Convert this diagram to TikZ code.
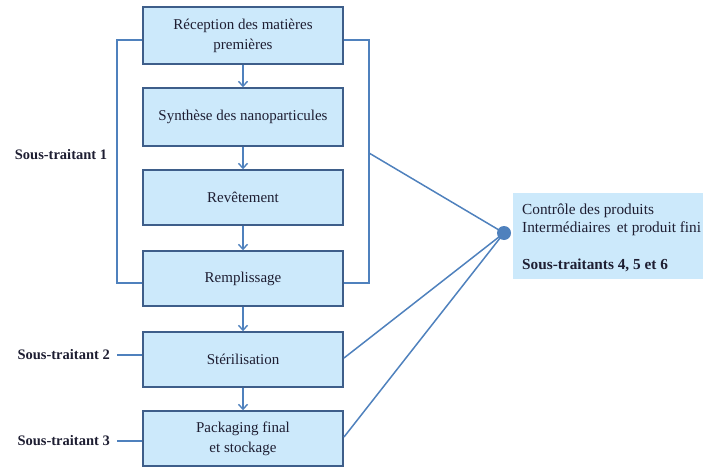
\documentclass[tikz,border=0pt]{standalone}
\usepackage{fontspec}
\setmainfont{Liberation Serif}
\usetikzlibrary{arrows.meta}
\definecolor{boxfill}{RGB}{204,233,251}
\definecolor{boxline}{RGB}{62,94,138}
\definecolor{linkblue}{RGB}{79,129,189}
\definecolor{labeltext}{RGB}{30,30,50}
\tikzset{
  stepbox/.style={rectangle, draw=boxline, fill=boxfill, line width=1.4pt,
    minimum width=200pt, align=center, text=labeltext,
    font=\fontsize{15}{20}\selectfont},
  flow/.style={draw=linkblue, line width=1.6pt, -{Straight Barb[length=5pt,width=9pt,line width=1.4pt]}},
  link/.style={draw=linkblue, line width=1.5pt},
  sidelabel/.style={font=\bfseries\fontsize{14.5}{16}\selectfont, text=labeltext, inner sep=0pt}
}
\begin{document}
\begin{tikzpicture}[x=1pt,y=-1pt]
\useasboundingbox (0,0) rectangle (703,468);

% process steps
\node[stepbox, minimum height=57pt] (b1) at (243,35.5) {Réception des matières\\premières};
\node[stepbox, minimum height=58pt] (b2) at (243,117) {Synthèse des nanoparticules};
\node[stepbox, minimum height=55pt] (b3) at (243,197.5) {Revêtement};
\node[stepbox, minimum height=55pt] (b4) at (243,278.5) {Remplissage};
\node[stepbox, minimum height=55pt] (b5) at (243,359.5) {Stérilisation};
\node[stepbox, minimum height=55pt] (b6) at (243,438.5) {Packaging final\\et stockage};

\draw[flow] (b1) -- (b2);
\draw[flow] (b2) -- (b3);
\draw[flow] (b3) -- (b4);
\draw[flow] (b4) -- (b5);
\draw[flow] (b5) -- (b6);

% bracket of the first subcontractor
\coordinate (lt) at (117,40);
\coordinate (lb) at (117,283);
\coordinate (rt) at (369,40);
\coordinate (rb) at (369,283);
\coordinate (rm) at (369,153);
\draw[link] (b1.west |- lt) -- (lt) -- (lb) -- (b4.west |- lb);
\draw[link] (b1.east |- rt) -- (rt) -- (rb) -- (b4.east |- rb);

% quality control
\node[rectangle, fill=boxfill, anchor=north west, minimum width=190pt, minimum height=86pt,
      inner sep=0pt] (ctrl) at (513,193) {};
\node[anchor=north west, align=left, inner sep=0pt, text=labeltext,
      font=\fontsize{15.3}{18}\selectfont] (ctrltext) at (522,204)
  {Contrôle des produits\\Intermédiaires\, et produit fini\\[19pt]\textbf{Sous-traitants 4, 5 et 6}};
\node[circle, fill=linkblue, minimum size=14pt, inner sep=0pt] (dot) at (504,233) {};

\coordinate (s5) at (344,358);
\coordinate (s6) at (344,437);
\draw[link] (rm) -- (dot.center);
\draw[link] (s5) -- (dot.center);
\draw[link] (s6) -- (dot.center);

% subcontractor labels
\node[sidelabel] (st1) at (61,155) {Sous-traitant 1};
\node[sidelabel, anchor=east] (st2) at (110,355) {Sous-traitant 2};
\node[sidelabel, anchor=east] (st3) at (110,441) {Sous-traitant 3};
\draw[link] (117,355) -- (b5.west |- 0,355);
\draw[link] (117,441) -- (b6.west |- 0,441);
\end{tikzpicture}
\end{document}
